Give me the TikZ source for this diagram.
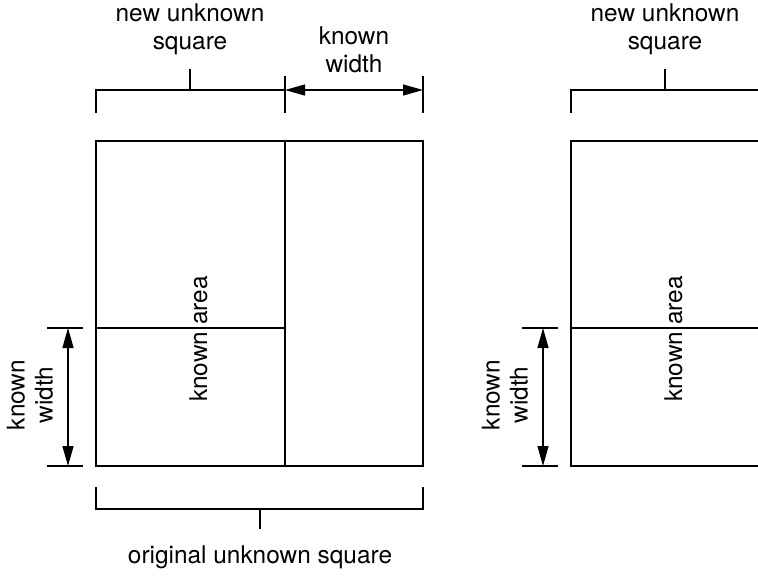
\documentclass[tikz,border=0pt]{standalone}
\usepackage{fontspec}
\setmainfont{TeX Gyre Heros}
\usetikzlibrary{arrows.meta,positioning}

\tikzset{
  edge/.style={line width=1.3pt},
  dimline/.style={line width=0.65pt},
  dimarrow/.style={dimline,{Triangle[length=10pt,width=5.5pt]}-{Triangle[length=10pt,width=5.5pt]}},
  lbl/.style={font=\fontsize{12.2}{14}\selectfont,align=center,inner sep=0pt},
}

\begin{document}
\begin{tikzpicture}[x=0.5pt,y=-0.5pt]
\clip (0,0) rectangle (758,575);
\foreach \dx/\side in {0/L,475/R} {
\begin{scope}[shift={(\dx,0)}]
\coordinate (\side-nw) at (96,141);
\coordinate (\side-se) at (423,466);
\coordinate (\side-n) at (285,141);
\coordinate (\side-s) at (285,466);
\coordinate (\side-w) at (96,328);
\coordinate (\side-m) at (285,328);
\coordinate (\side-bl) at (96,113);
\coordinate (\side-br) at (285,90);
\coordinate (\side-tb) at (190,90);
\coordinate (\side-tt) at (190,69);
\coordinate (\side-e1) at (47,328);
\coordinate (\side-e2) at (83,328);
\coordinate (\side-e3) at (47,466);
\coordinate (\side-e4) at (83,466);
\coordinate (\side-a1) at (68,328);
\coordinate (\side-a2) at (68,466);
\draw[edge] (\side-nw) rectangle (\side-se);
\draw[edge] (\side-n) -- (\side-s);
\draw[edge] (\side-w) -- (\side-m);
\draw[edge] (\side-bl) |- (\side-br);
\draw[edge] (\side-tb) -- (\side-tt);
\node[lbl, above=7pt of \side-tt] (\side-newsq) {new unknown\\square};
\node[lbl, rotate=90, anchor=base] (\side-area) at (207,339) {known area};
\draw[dimline] (\side-e1) -- (\side-e2);
\draw[dimline] (\side-e3) -- (\side-e4);
\draw[dimarrow] (\side-a1) -- (\side-a2);
\node[lbl, rotate=90] (\side-kw) at (30,395) {known\\width};
\end{scope}
}
\coordinate (k1) at (285,76);
\coordinate (k2) at (285,113);
\coordinate (k3) at (423,76);
\coordinate (k4) at (423,113);
\coordinate (k5) at (423,90);
\coordinate (k6) at (354,90);
\coordinate (ob1) at (96,487);
\coordinate (ob2) at (423,509);
\coordinate (ob3) at (423,487);
\coordinate (obt) at (260,509);
\coordinate (obb) at (260,529);
\draw[edge] (k1) -- (k2);
\draw[edge] (k3) -- (k4);
\draw[dimarrow] (L-br) -- (k5);
\node[lbl, above=8.5pt of k6] (topkw) {known\\width};
\draw[edge] (ob1) |- (ob2) -- (ob3);
\draw[edge] (obt) -- (obb);
\node[lbl, below=8pt of obb] (orig) {original unknown square};
\end{tikzpicture}
\end{document}
